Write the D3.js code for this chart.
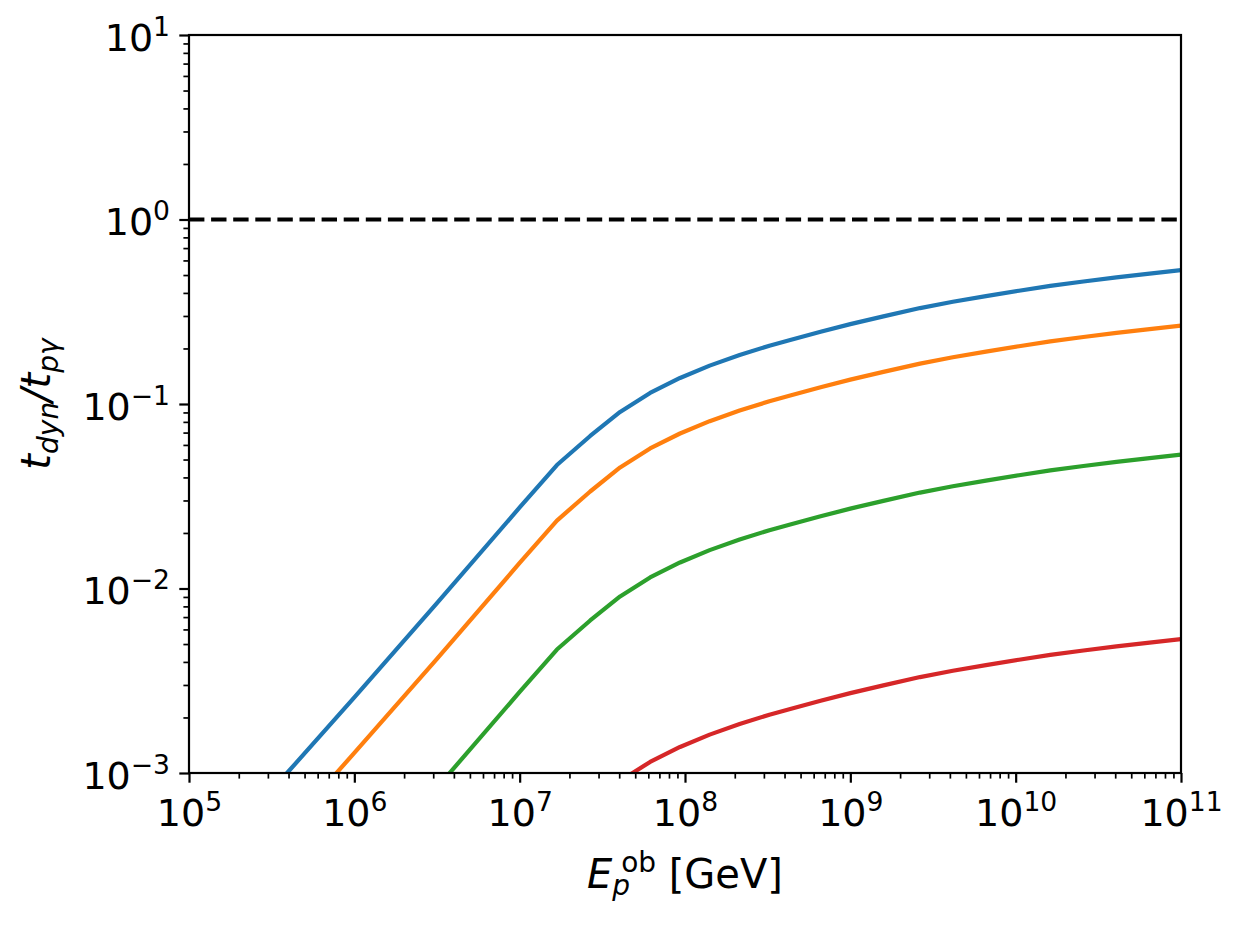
<!DOCTYPE html>
<html>
	<head>
		<meta charset="UTF-8">
		<title>t_dyn / t_pgamma</title>
		<style>
			body{margin:0;background:#fff;}
			text{font-family:"DejaVu Sans",sans-serif;fill:#000;}
		</style>
	</head>
	<body>
		<div id="chart"></div>
		<script src="https://cdn.jsdelivr.net/npm/d3@7"></script>
		<script>
			//observed proton energy [GeV], shared by all curves
			var energy = [1e5,3.92e5,1e6,3.16e6,1e7,1.68e7,2.67e7,4.05e7,6.15e7,9.33e7,1.41e8,2.14e8,3.24e8,4.33e8,6.61e8,1e9,1.585e9,2.64e9,4.17e9,6.61e9,1.047e10,1.62e10,2.57e10,4.07e10,6.46e10,1e11];
			//t_dyn/t_pgamma for each curve
			var ratioBlue = [2.45e-4,1e-3,2.57e-3,8.32e-3,0.0275,0.0467,0.0671,0.0906,0.1148,0.1384,0.1614,0.1841,0.2070,0.2223,0.2466,0.2710,0.2985,0.3311,0.3581,0.3846,0.4111,0.4365,0.4613,0.4853,0.5093,0.5321];
			var ratioOrange = [1.225e-4,5e-4,1.285e-3,4.16e-3,0.01375,0.02335,0.03355,0.0453,0.0574,0.0692,0.0807,0.0921,0.1035,0.1112,0.1233,0.1355,0.1493,0.1656,0.1791,0.1923,0.2056,0.2183,0.2307,0.2427,0.2547,0.2661];
			var ratioGreen = [2.45e-5,1e-4,2.57e-4,8.32e-4,2.75e-3,4.67e-3,6.71e-3,9.06e-3,0.01148,0.01384,0.01614,0.01841,0.02070,0.02223,0.02466,0.02710,0.02985,0.03311,0.03581,0.03846,0.04111,0.04365,0.04613,0.04853,0.05093,0.05321];
			var ratioRed = [2.45e-6,1e-5,2.57e-5,8.32e-5,2.75e-4,4.67e-4,6.71e-4,9.06e-4,1.148e-3,1.384e-3,1.614e-3,1.841e-3,2.070e-3,2.223e-3,2.466e-3,2.710e-3,2.985e-3,3.311e-3,3.581e-3,3.846e-3,4.111e-3,4.365e-3,4.613e-3,4.853e-3,5.093e-3,5.321e-3];
			var seriesColors = ["#1f77b4","#ff7f0e","#2ca02c","#d62728"];
			//reference level (dashed)
			var unityLevel = 1;
			//axis ranges and major tick exponents
			var xDomain = [1e5,1e11],
				yDomain = [1e-3,1e1];
			var xTickExp = [5,6,7,8,9,10,11],
				yTickExp = [-3,-2,-1,0,1];

			var W = 1243, H = 926;
			var margin = {top:35,left:189},
				width = 992,
				height = 738;
			var tickFont = 38, labelFont = 40;

			var svg = d3.select("#chart").append("svg")
						.attr("width",W)
						.attr("height",H);
			var g = svg.append("g")
						.attr("transform","translate("+margin.left+","+margin.top+")");

			var x = d3.scaleLog().domain(xDomain).range([0,width]);
			var y = d3.scaleLog().domain(yDomain).range([height,0]);

			//minor ticks: 2..9 inside every decade
			function minorTicks(lo,hi){
				var out = [];
				for(var e=lo;e<hi;e++){
					for(var m=2;m<10;m++){
						out.push(m*Math.pow(10,e));
					}
				}
				return out;
			}
			var pow10 = function(e){return Math.pow(10,e);};

			g.append("clipPath").attr("id","plotclip")
				.append("rect").attr("width",width).attr("height",height);

			//curves
			var series = [ratioBlue,ratioOrange,ratioGreen,ratioRed];
			var line = d3.line()
						.x(function(d){return x(d[0]);})
						.y(function(d){return y(d[1]);});
			var curves = g.append("g").attr("clip-path","url(#plotclip)");
			series.forEach(function(vals,i){
				curves.append("path")
					.datum(d3.zip(energy,vals))
					.attr("d",line)
					.attr("fill","none")
					.attr("stroke",seriesColors[i])
					.attr("stroke-width",4.2)
					.attr("stroke-linejoin","round");
			});
			//dashed line at 1
			curves.append("path")
				.datum([[xDomain[0],unityLevel],[xDomain[1],unityLevel]])
				.attr("d",line)
				.attr("fill","none")
				.attr("stroke","#000")
				.attr("stroke-width",4.2)
				.attr("stroke-dasharray","15.4,6.7");

			//minor ticks
			g.append("g")
				.attr("transform","translate(0,"+height+")")
				.call(d3.axisBottom(x).tickValues(minorTicks(5,11)).tickSize(5.6).tickFormat(""))
				.call(styleAxis,1.7);
			g.append("g")
				.call(d3.axisLeft(y).tickValues(minorTicks(-3,1)).tickSize(5.6).tickFormat(""))
				.call(styleAxis,1.7);

			//major ticks with 10^n labels
			var xAxis = g.append("g")
				.attr("transform","translate(0,"+height+")")
				.call(d3.axisBottom(x).tickValues(xTickExp.map(pow10)).tickSize(9.7))
				.call(styleAxis,2.2);
			xAxis.selectAll(".tick text").each(function(d){
				powerLabel(d3.select(this),d).attr("y",53).attr("text-anchor","middle");
			});
			var yAxis = g.append("g")
				.call(d3.axisLeft(y).tickValues(yTickExp.map(pow10)).tickSize(9.7))
				.call(styleAxis,2.2);
			yAxis.selectAll(".tick text").each(function(d){
				powerLabel(d3.select(this),d).attr("x",-19).attr("y",15).attr("text-anchor","end");
			});

			//frame on top
			g.append("rect")
				.attr("width",width)
				.attr("height",height)
				.attr("fill","none")
				.attr("stroke","#000")
				.attr("stroke-width",2.2);

			//x label: E_p^ob [GeV]
			var xl = svg.append("text")
						.attr("x",margin.left+width/2)
						.attr("y",margin.top+height+115)
						.attr("text-anchor","middle")
						.style("font-size",labelFont+"px");
			xl.append("tspan").style("font-style","italic").text("E");
			xl.append("tspan").style("font-style","italic").style("font-size","0.7em").attr("dy",7).text("p");
			xl.append("tspan").style("font-size","0.7em").attr("dx",-9).attr("dy",-23).text("ob");
			xl.append("tspan").attr("dy",16).text(" [GeV]");

			//y label: t_dyn / t_pgamma
			var yl = svg.append("text")
						.attr("transform","translate(50,"+(margin.top+height/2)+") rotate(-90)")
						.attr("text-anchor","middle")
						.style("font-size",labelFont+"px")
						.style("font-style","italic");
			yl.append("tspan").text("t");
			yl.append("tspan").style("font-size","0.7em").attr("dy",8).text("dyn");
			yl.append("tspan").attr("dy",-8).text("/t");
			yl.append("tspan").style("font-size","0.7em").attr("dy",8).text("p\u03b3");

			function styleAxis(sel,w){
				sel.select(".domain").remove();
				sel.selectAll(".tick line").attr("stroke","#000").attr("stroke-width",w);
			}
			function powerLabel(t,d){
				var e = Math.round(Math.log10(d));
				t.text(null).attr("dy",null).attr("fill","#000")
					.style("font-size",tickFont+"px");
				t.append("tspan").text("10");
				t.append("tspan").attr("dy",-15).style("font-size","0.7em")
					.text(e<0?"\u2212"+(-e):String(e));
				return t;
			}
		</script>
	</body>
</html>
